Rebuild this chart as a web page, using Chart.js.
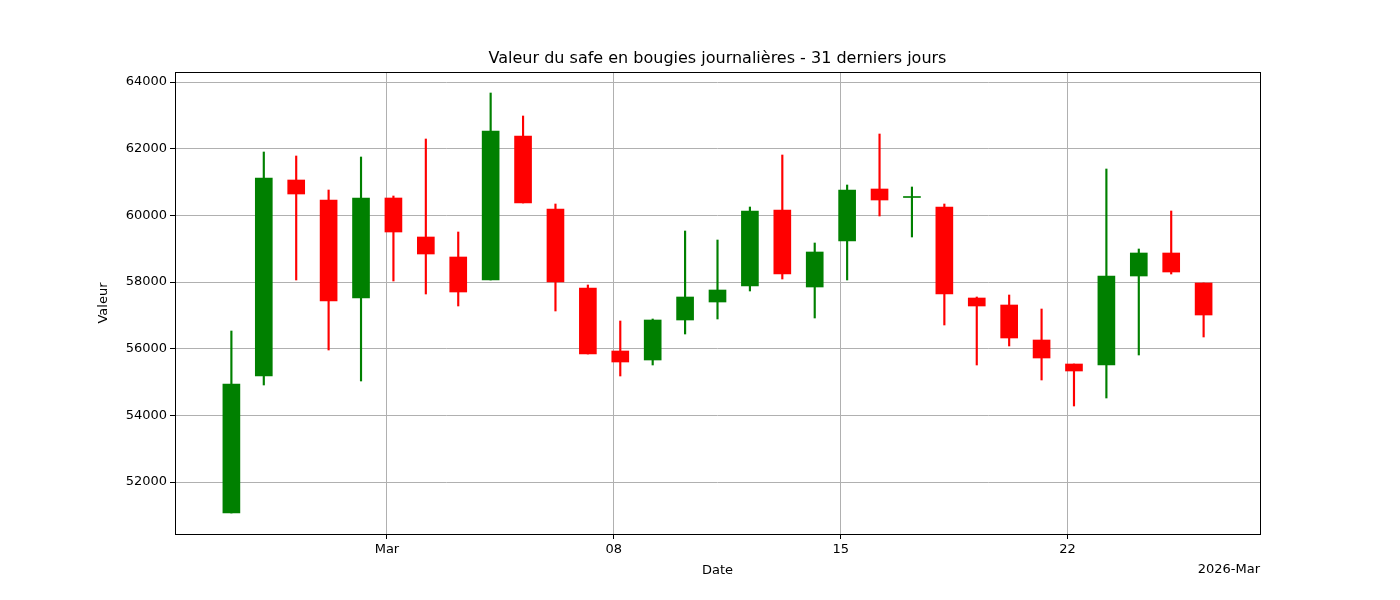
<!DOCTYPE html>
<html>
<head>
<meta charset="utf-8">
<script src="https://cdn.jsdelivr.net/npm/chart.js@4.4.1/dist/chart.umd.min.js"></script>
<style>
  body { margin: 0; background: #fff; }
  #wrap { width: 1400px; height: 600px; }
</style>
</head>
<body>
<div id="wrap"><canvas id="chart"></canvas></div>
<script>
// --- Data (days relative to 1 Mar 2026) ---
const dayOffsets = [-4.8,-3.8,-2.8,-1.8,-0.8,0.2,1.2,2.2,3.2,4.2,5.2,6.2,7.2,8.2,9.2,10.2,11.2,12.2,13.2,14.2,15.2,16.2,17.2,18.2,19.2,20.2,21.2,22.2,23.2,24.2,25.2];
const opens  = [51070,55180,61060,60460,57520,60520,59350,58750,58060,62380,60190,57820,55930,55660,56860,57400,57880,60160,57850,59230,60790,60550,60250,57520,57310,56260,55540,55510,58180,58870,57970];
const highs  = [56530,61900,61780,60760,61750,60580,62290,59500,63670,62980,60340,57910,56830,56890,59530,59260,60250,61810,59170,60910,62440,60850,60340,57550,57610,57190,55540,61390,58990,60130,57970];
const lows   = [51070,54910,58060,55960,55030,58030,57640,57280,58060,60370,57130,55840,55180,55510,56440,56890,57730,58090,56920,58060,59980,59350,56710,55510,56080,55060,54280,54520,55810,58240,56350];
const closes = [54940,61120,60640,57430,60520,59500,58840,57700,62530,60370,58000,55840,55600,56860,57550,57760,60130,58240,58900,60760,60460,60550,57640,57280,56320,55720,55330,58180,58870,58300,57010];
const tickDays = [0, 7, 14, 21];
const tickLabels = ['Mar', '08', '15', '22'];
const yTicks = [52000, 54000, 56000, 58000, 60000, 62000, 64000];

const colors = opens.map((o, i) => closes[i] >= o ? 'green' : 'red');
const bodies = dayOffsets.map((d, i) => {
    let lo = Math.min(opens[i], closes[i]), hi = Math.max(opens[i], closes[i]);
    if (hi - lo < 30) { lo -= 15; hi += 15; } // doji stays visible
    return { x: d, y: [lo, hi] };
});
const wicks = dayOffsets.map((d, i) => ({ x: d, y: [lows[i], highs[i]] }));

// frame, title and offset label like matplotlib
const framePlugin = {
    id: 'frame',
    afterDraw(chart) {
        const { ctx, chartArea: a } = chart;
        ctx.save();
        ctx.strokeStyle = '#000';
        ctx.lineWidth = 1;
        ctx.strokeRect(a.left + 0.5, a.top + 0.5, a.right - a.left, a.bottom - a.top);
        ctx.fillStyle = '#000';
        ctx.font = '13px "DejaVu Sans"';
        ctx.textAlign = 'right';
        ctx.textBaseline = 'alphabetic';
        ctx.fillText('2026-Mar', a.right, a.bottom + 39);
        ctx.font = '16px "DejaVu Sans"';
        ctx.textAlign = 'center';
        ctx.fillText('Valeur du safe en bougies journalières - 31 derniers jours', (a.left + a.right) / 2, a.top - 9);
        ctx.restore();
    }
};

const font = { family: 'DejaVu Sans', size: 13 };

new Chart(document.getElementById('chart'), {
    type: 'bar',
    data: {
        datasets: [
            { data: wicks, backgroundColor: colors, barThickness: 1.5, grouped: false, order: 2 },
            { data: bodies, backgroundColor: colors, barThickness: 17, grouped: false, order: 1 }
        ]
    },
    options: {
        responsive: true,
        maintainAspectRatio: false,
        animation: false,
        layout: { padding: { top: 72, right: 140, bottom: 22, left: 96 } },
        plugins: {
            legend: { display: false },
            tooltip: { enabled: false },
            title: { display: false }
        },
        scales: {
            x: {
                type: 'linear',
                offset: false,
                min: -6.54,
                max: 26.94,
                afterBuildTicks: s => { s.ticks = tickDays.map(v => ({ value: v })); },
                afterFit: s => { s.height = 44; },
                ticks: {
                    color: '#000', font,
                    callback: v => tickLabels[tickDays.indexOf(v)] ?? ''
                },
                grid: { color: '#b0b0b0', offset: false, tickLength: 5, tickColor: '#000' },
                border: { display: false },
                title: { display: true, text: 'Date', color: '#000', font, padding: { top: 2, bottom: 0 } }
            },
            y: {
                min: 50440,
                max: 64300,
                afterBuildTicks: s => { s.ticks = yTicks.map(v => ({ value: v })); },
                afterFit: s => { s.width = 79; },
                ticks: { color: '#000', font, callback: v => String(v) },
                grid: { color: '#b0b0b0', tickLength: 5, tickColor: '#000' },
                border: { display: false },
                title: { display: true, text: 'Valeur', color: '#000', font, padding: 0 }
            }
        }
    },
    plugins: [framePlugin]
});
</script>
</body>
</html>
